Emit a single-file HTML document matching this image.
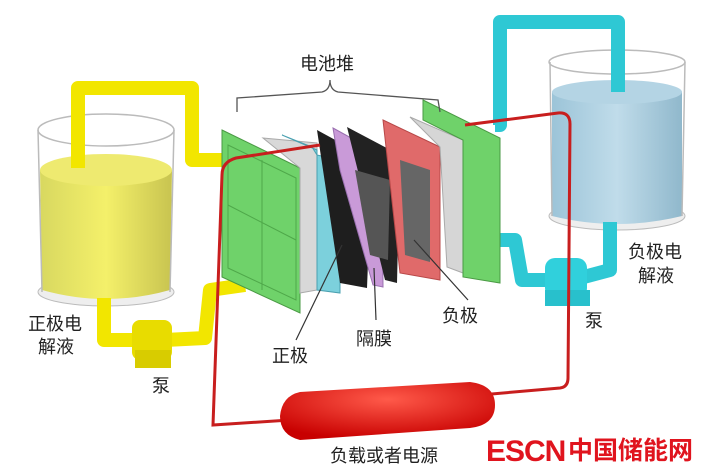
<!DOCTYPE html>
<html><head><meta charset="utf-8"><style>
html,body{margin:0;padding:0;background:#fff;}
svg{display:block;}
text{font-family:"Liberation Sans","Noto Sans CJK SC",sans-serif;fill:#222;}
</style></head><body>
<svg width="716" height="474" viewBox="0 0 716 474" xmlns="http://www.w3.org/2000/svg">
<defs>
<linearGradient id="yl" x1="0" x2="1"><stop offset="0" stop-color="#d8d860"/><stop offset=".5" stop-color="#f4f06a"/><stop offset="1" stop-color="#c8c450"/></linearGradient>
<linearGradient id="bl" x1="0" x2="1"><stop offset="0" stop-color="#9cc4d8"/><stop offset=".5" stop-color="#c0dcea"/><stop offset="1" stop-color="#90b8cc"/></linearGradient>
<radialGradient id="rd" cx=".5" cy=".3" r=".7"><stop offset="0" stop-color="#ff5a4a"/><stop offset="1" stop-color="#c80000"/></radialGradient>
</defs>
<!-- left tank -->
<ellipse cx="106" cy="292" rx="68" ry="14" fill="#eee" stroke="#bbb"/>
<path d="M40 170 Q106 150 172 170 L170 290 Q106 308 42 290 Z" fill="url(#yl)"/>
<ellipse cx="106" cy="170" rx="66" ry="16" fill="#eeea70"/>
<path d="M38 130 L42 292 M174 130 L170 292" stroke="#bbb" stroke-width="1.5" fill="none"/>
<ellipse cx="106" cy="130" rx="68" ry="16" fill="none" stroke="#bbb" stroke-width="1.5"/>
<!-- yellow pipes -->
<path d="M78 168 L78 88 L192 88 L192 160 L228 160" stroke="#f2e600" stroke-width="14" fill="none" stroke-linejoin="round"/>
<path d="M104 298 L104 340 L140 340" stroke="#f2e600" stroke-width="14" fill="none" stroke-linejoin="round"/>
<path d="M165 340 L205 338 L210 290 L245 285" stroke="#f2e600" stroke-width="14" fill="none" stroke-linejoin="round"/>
<rect x="132" y="320" width="40" height="40" rx="8" fill="#e8dc00"/>
<rect x="135" y="350" width="36" height="18" fill="#d8cc00"/>
<!-- right tank -->
<ellipse cx="617" cy="216" rx="68" ry="14" fill="#eee" stroke="#bbb"/>
<path d="M552 92 Q617 78 682 92 L682 216 Q617 232 552 216 Z" fill="url(#bl)"/>
<ellipse cx="617" cy="92" rx="65" ry="12" fill="#b4d4e4"/>
<path d="M550 62 L552 216 M685 62 L682 216" stroke="#bbb" stroke-width="1.5" fill="none"/>
<ellipse cx="617" cy="62" rx="68" ry="12" fill="none" stroke="#bbb" stroke-width="1.5"/>
<!-- cyan pipes -->
<path d="M495 125 L500 125 L500 22 L618 22 L618 92" stroke="#2ec8d4" stroke-width="14" fill="none" stroke-linejoin="round"/>
<path d="M495 240 L515 240 L522 280 L550 280" stroke="#2ec8d4" stroke-width="14" fill="none" stroke-linejoin="round"/>
<path d="M580 278 L610 270 L610 222" stroke="#2ec8d4" stroke-width="14" fill="none" stroke-linejoin="round"/>
<rect x="545" y="258" width="42" height="40" rx="10" fill="#30d0dc"/>
<rect x="545" y="290" width="45" height="16" fill="#28c0cc"/>
<!-- stack -->
<polygon points="222,130 300,168 300,313 222,277" fill="#6fd26a" stroke="#4a9a44"/>
<polygon points="228,145 296,178 296,300 228,268" fill="none" stroke="#4fa84a"/>
<line x1="262" y1="160" x2="262" y2="290" stroke="#4fa84a"/>
<line x1="228" y1="205" x2="296" y2="240" stroke="#4fa84a"/>
<polygon points="263,138 317,143 317,290 300,293 300,168" fill="#d8d8d8" stroke="#aaa"/>
<polygon points="282,135 312,147 317,155 340,160 340,293 317,290 317,150" fill="#7cd0dc" stroke="#4aa0b0"/>
<polygon points="317,130 372,160 367,288 340,283" fill="#1e1e1e"/>
<polygon points="333,128 382,155 383,287 373,285 340,170" fill="#c99ad8" stroke="#9a70b0"/>
<polygon points="347,127 400,155 397,283 385,280" fill="#222"/>
<polygon points="355,170 390,180 388,260 370,255" fill="#555"/>
<polygon points="383,120 440,147 440,280 400,273" fill="#e06a6a" stroke="#b84848"/>
<polygon points="400,160 430,170 430,262 405,255" fill="#666"/>
<polygon points="410,117 463,140 463,273 447,267 440,147" fill="#d6d6d6" stroke="#aaa"/>
<polygon points="423,100 500,138 500,283 463,277 463,140 423,120" fill="#6fd26a" stroke="#4a9a44"/>
<!-- red wire -->
<path d="M320 145 L236 158 Q222 162 222 175 L213 425 L290 420" stroke="#c81e1e" stroke-width="3" fill="none"/>
<path d="M480 395 L560 388 Q568 387 568 378 L570 124 Q570 112 558 113 L465 125" stroke="#c81e1e" stroke-width="3" fill="none"/>
<path d="M300 392 L470 382 Q495 385 495 405 Q495 425 470 428 L300 440 Q280 435 280 416 Q282 396 300 392 Z" fill="url(#rd)"/>
<!-- bracket -->
<path d="M237 112 L237 98 L322 92 Q330 90 330 80 Q330 90 338 92 L438 100 L440 112" stroke="#555" stroke-width="1.3" fill="none"/>
<!-- leaders -->
<line x1="296" y1="340" x2="342" y2="245" stroke="#333" stroke-width="1.2"/>
<line x1="376" y1="320" x2="374" y2="268" stroke="#333" stroke-width="1.2"/>
<line x1="468" y1="300" x2="414" y2="240" stroke="#333" stroke-width="1.2"/>
<!-- labels -->
<text x="300" y="70" font-size="18">电池堆</text>
<text x="28" y="330" font-size="18">正极电</text>
<text x="38" y="353" font-size="18">解液</text>
<text x="152" y="392" font-size="18">泵</text>
<text x="272" y="362" font-size="18">正极</text>
<text x="356" y="345" font-size="18">隔膜</text>
<text x="442" y="322" font-size="18">负极</text>
<text x="585" y="327" font-size="18">泵</text>
<text x="628" y="258" font-size="18">负极电</text>
<text x="638" y="282" font-size="18">解液</text>
<text x="330" y="462" font-size="18">负载或者电源</text>
<text x="486" y="461" font-size="30" font-weight="bold" style="fill:#e0141e;letter-spacing:-1px">ESCN</text>
<text x="568" y="459" font-size="25" font-weight="bold" style="fill:#e0141e">中国储能网</text>
</svg>
</body></html>
